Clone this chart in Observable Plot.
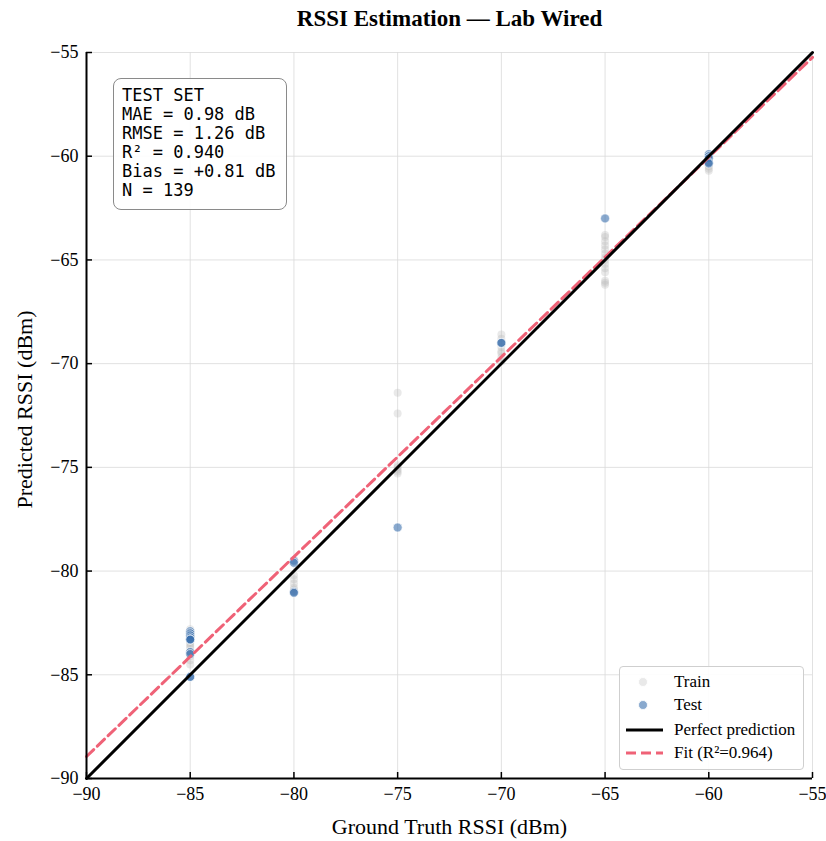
<!DOCTYPE html>
<html>
<head>
<meta charset="utf-8">
<script src="https://cdn.jsdelivr.net/npm/d3@7"></script>
<script src="https://cdn.jsdelivr.net/npm/@observablehq/plot@0.6"></script>
<style>
  body { margin: 0; background: #fff; }
  #wrap { position: relative; width: 826px; height: 841px; font-family: "Liberation Serif", "DejaVu Serif", serif; }
  #stats { position: absolute; left: 113px; top: 78px; width: 174px; height: 132px; box-sizing: border-box;
    border: 1.5px solid #8a8a8a; border-radius: 8px; background: rgba(255,255,255,0.9);
    font-family: "DejaVu Sans Mono", monospace; font-size: 17px; line-height: 19px; padding: 7px 0 0 8px; color: #000; white-space: pre; }
  #legend { position: absolute; left: 619px; top: 666px; width: 185px; height: 104px; box-sizing: border-box;
    border: 1px solid #cfcfcf; border-radius: 4px; background: rgba(255,255,255,0.9); }
  #legend .row { position: absolute; left: 0; height: 22px; width: 100%; }
  #legend .lab { position: absolute; left: 54px; top: 1px; font-size: 17px; line-height: 20px; color: #000; white-space: nowrap; }
</style>
</head>
<body>
<div id="wrap"></div>
<script>
const title = "RSSI Estimation — Lab Wired";
const xLabel = "Ground Truth RSSI (dBm)";
const yLabel = "Predicted RSSI (dBm)";
const ticks = [-90, -85, -80, -75, -70, -65, -60, -55];
const domain = [-90, -55];

const trainX = [-85,-85,-85,-85,-85,-85,-85,-85,-85,-85,-85,-85,
  -80,-80,-80,-80,-80,-80,
  -75,-75,-75,-75,-75,-75,-75,
  -70,-70,-70,-70,-70,-70,-70,-70,
  -65,-65,-65,-65,-65,-65,-65,-65,-65,-65,-65,-65,-65,-65,
  -60,-60,-60,-60,-60,-60];
const trainY = [-82.8,-83.0,-83.1,-83.2,-83.4,-83.5,-83.6,-83.7,-83.9,-84.1,-84.3,-84.5,
  -80.2,-80.4,-80.6,-80.8,-80.9,-81.0,
  -71.4,-72.4,-74.9,-75.0,-75.1,-75.2,-75.3,
  -68.6,-68.8,-69.0,-69.2,-69.4,-69.5,-69.7,-69.9,
  -63.8,-63.9,-64.1,-64.3,-64.5,-64.7,-64.9,-65.0,-65.2,-65.4,-65.6,-66.0,-66.1,-66.2,
  -60.0,-60.2,-60.4,-60.5,-60.6,-60.7];

const testX = [-85,-85,-85,-85,-85,-85,-85,-85,-85,-85,-85,
  -80,-80,-80,-80,
  -75,
  -70,-70,
  -65,
  -60,-60,-60,-60,-60];
const testY = [-82.9,-83.0,-83.1,-83.2,-83.3,-83.3,-83.3,-83.9,-84.0,-85.1,-85.1,
  -79.5,-79.6,-81.0,-81.05,
  -77.9,
  -69.0,-69.0,
  -63.0,
  -59.9,-60.0,-60.1,-60.3,-60.35];

const fitSlope = [0.963];
const fitIntercept = [-2.27];
const fitR2 = "0.964";

const statsLines = ["TEST SET", "MAE = 0.98 dB", "RMSE = 1.26 dB", "R² = 0.940", "Bias = +0.81 dB", "N = 139"];

const train = trainX.map((x, i) => ({x, y: trainY[i]}));
const test = testX.map((x, i) => ({x, y: testY[i]}));
const perfect = domain.map(v => ({x: v, y: v}));
const fit = domain.map(v => ({x: v, y: fitSlope[0] * v + fitIntercept[0]}));

const fmt = d => (d < 0 ? "\u2212" : "") + Math.abs(d);
const blue = "#3b6fae";
const pink = "#ef6277";

const plot = Plot.plot({
  width: 826, height: 841,
  marginLeft: 86, marginRight: 14, marginTop: 52, marginBottom: 63,
  style: {fontFamily: "'Liberation Serif', serif", background: "#fff", color: "#000"},
  x: {domain, ticks},
  y: {domain, ticks},
  marks: [
    Plot.gridX(ticks, {stroke: "#d9d9d9", strokeOpacity: 1, strokeWidth: 0.8}),
    Plot.gridY(ticks, {stroke: "#d9d9d9", strokeOpacity: 1, strokeWidth: 0.8}),
    Plot.dot(train, {x: "x", y: "y", r: 4, fill: "#b5b5b5", fillOpacity: 0.3, stroke: "none"}),
    Plot.dot(test, {x: "x", y: "y", r: 4.5, fill: blue, fillOpacity: 0.6, stroke: "#fff", strokeWidth: 0.8, strokeOpacity: 0.8}),
    Plot.line(fit, {x: "x", y: "y", stroke: pink, strokeWidth: 3, strokeDasharray: "10,5"}),
    Plot.line(perfect, {x: "x", y: "y", stroke: "#000", strokeWidth: 3}),
    Plot.axisX({ticks, tickSize: 6, dy: -6, tickFormat: () => "", label: null, stroke: "#000", strokeWidth: 1.5}),
    Plot.axisX({ticks, tickSize: 0, tickPadding: 9, tickFormat: fmt, label: null, fontSize: 18}),
    Plot.axisY({ticks, tickSize: 6, dx: 6, tickFormat: () => "", label: null, stroke: "#000", strokeWidth: 1.5}),
    Plot.axisY({ticks, tickSize: 0, tickPadding: 8, tickFormat: fmt, label: null, fontSize: 18}),
    Plot.ruleY([-90], {stroke: "#000", strokeWidth: 2}),
    Plot.ruleX([-90], {stroke: "#000", strokeWidth: 2}),
    Plot.text([title], {frameAnchor: "top", lineAnchor: "middle", dy: -34, fontSize: 23, fontWeight: "bold", fill: "#000"}),
    Plot.text([xLabel], {frameAnchor: "bottom", lineAnchor: "middle", dy: 48, fontSize: 22, fill: "#000"}),
    Plot.text([yLabel], {frameAnchor: "left", lineAnchor: "middle", textAnchor: "middle", dx: -62, dy: -6, rotate: -90, fontSize: 22, fill: "#000"})
  ]
});

const wrap = document.getElementById("wrap");
wrap.appendChild(plot);

const stats = document.createElement("div");
stats.id = "stats";
stats.textContent = statsLines.join("\n");
wrap.appendChild(stats);

const legendItems = [
  {label: "Train", kind: "dot", color: "#b5b5b5", op: 0.3},
  {label: "Test", kind: "dot", color: blue, op: 0.6},
  {label: "Perfect prediction", kind: "line", color: "#000", dash: null},
  {label: `Fit (R²=${fitR2})`, kind: "line", color: pink, dash: "10,5"}
];
const legend = document.createElement("div");
legend.id = "legend";
const rowTops = [4, 27, 52, 75];
legendItems.forEach((it, i) => {
  const row = document.createElement("div");
  row.className = "row";
  row.style.top = rowTops[i] + "px";
  let sym;
  if (it.kind === "dot") {
    sym = `<svg width="50" height="22" style="position:absolute;left:0;top:0"><circle cx="23" cy="11" r="4.5" fill="${it.color}" fill-opacity="${it.op}" stroke="#fff" stroke-width="0.8"/></svg>`;
  } else {
    sym = `<svg width="50" height="22" style="position:absolute;left:0;top:0"><line x1="6" x2="43" y1="11" y2="11" stroke="${it.color}" stroke-width="3" ${it.dash ? `stroke-dasharray="${it.dash}"` : ""}/></svg>`;
  }
  row.innerHTML = sym + `<span class="lab">${it.label}</span>`;
  legend.appendChild(row);
});
wrap.appendChild(legend);
</script>
</body>
</html>
